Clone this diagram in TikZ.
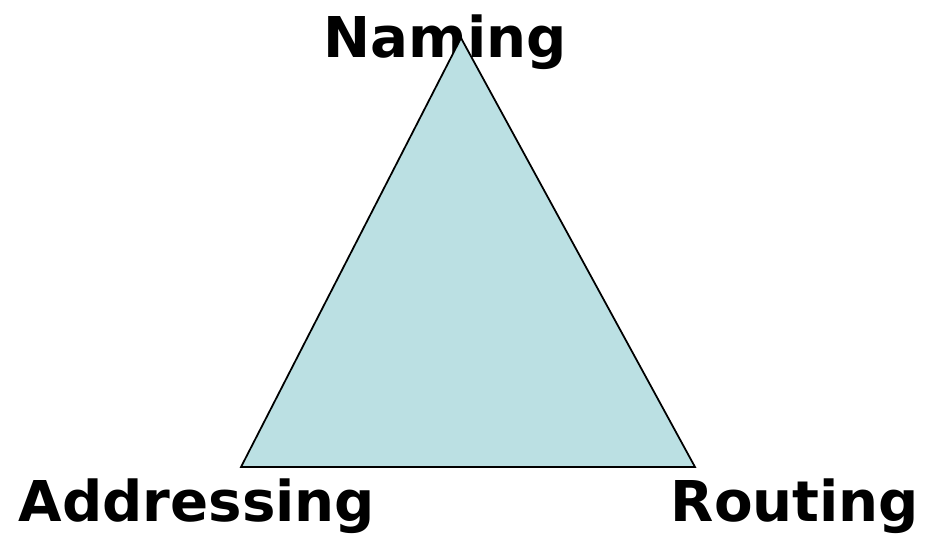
\documentclass[tikz,border=0pt]{standalone}
\usepackage{fontspec}
\setmainfont{DejaVu Sans}
\usepackage{tikz}
\definecolor{trifill}{RGB}{187,224,227}
\tikzset{
  corner/.style={font=\fontsize{16}{19}\selectfont\bfseries, anchor=base, inner sep=0pt},
  tri/.style={draw=black, fill=trifill, line width=0.5pt, line join=miter}
}
\begin{document}
\begin{tikzpicture}
  \useasboundingbox (0,0) rectangle (9.36,5.47);
  % Labels
  \node[corner] (naming) at (4.45,4.90) {Naming};
  \node[corner] (addressing) at (1.97,0.26) {Addressing};
  \node[corner] (routing) at (7.95,0.26) {Routing};

  % Triangle
  \coordinate (top) at (4.61,5.09);
  \coordinate (left) at (2.41,0.80);
  \coordinate (right) at (6.95,0.80);
  \draw[tri] (top) -- (left) -- (right) -- cycle;
\end{tikzpicture}
\end{document}
